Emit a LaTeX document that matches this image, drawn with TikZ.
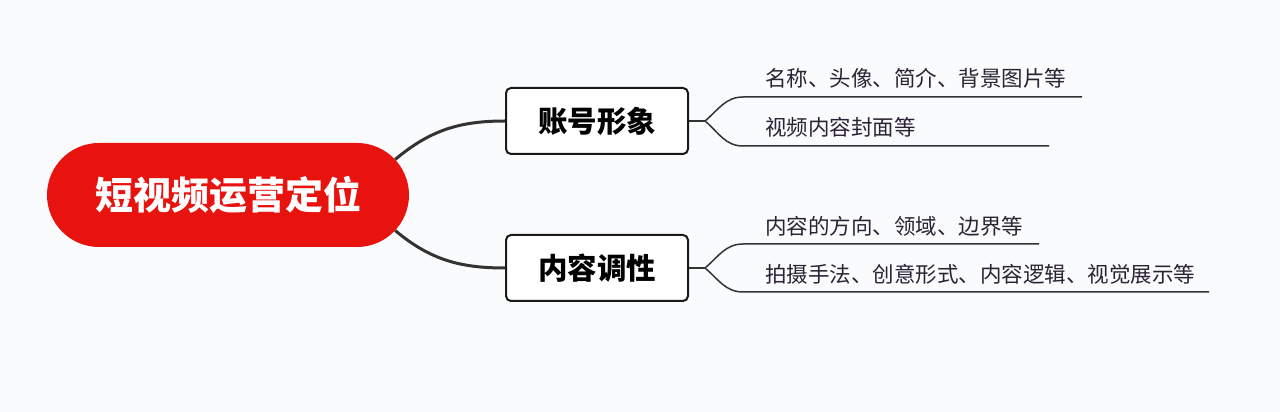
\documentclass[tikz,border=0pt]{standalone}
\usepackage{fontspec}
\setmainfont{Noto Sans CJK SC}
\usetikzlibrary{shapes.misc}

\definecolor{rootred}{HTML}{E8130E}
\definecolor{linegray}{HTML}{333333}
\definecolor{leafink}{HTML}{2B2335}
\definecolor{paper}{HTML}{F9FBFC}

\tikzset{
  rootnode/.style={rounded rectangle, fill=rootred, text=white,
    minimum width=362pt, minimum height=104pt, inner sep=0pt,
    font=\fontsize{38}{40}\selectfont\bfseries},
  topic/.style={draw=black!90, line width=2pt, rounded corners=5pt, fill=white,
    minimum width=182pt, minimum height=66pt, inner sep=0pt,
    font=\fontsize{29.5}{32}\selectfont\bfseries},
  leaf/.style={anchor=base west, inner sep=0pt, text=leafink,
    font=\fontsize{21.5}{24}\selectfont},
  branch/.style={draw=linegray, line width=3pt},
  twig/.style={draw=linegray, line width=1.5pt}
}

\begin{document}
\begin{tikzpicture}[x=1pt, y=1pt]

  % ============================================================
  % achtergrond
  % ============================================================
  \fill[paper] (0,0) rectangle (1280,412);
  \useasboundingbox (0,0) rectangle (1280,412);

  % ============================================================
  % hoofdonderwerp en takken
  % ============================================================

  \node[rootnode] (root) at (228,217) {短视频运营定位};

  \node[topic] (zh) at (597,291) {账号形象};
  \node[topic] (nr) at (597,144) {内容调性};

  \draw[branch] (root.12)  to[out=40,  in=180] (zh.west);
  \draw[branch] (root.-12) to[out=-40, in=180] (nr.west);

  % ============================================================
  % boven: 账号形象
  % ============================================================

  \coordinate (f1) at (705,291);
  \draw[twig] (zh.east) -- (f1);

  \coordinate (a1) at (743,315);
  \coordinate (a1e) at (1082,315);
  \coordinate (a2) at (743,266);
  \coordinate (a2e) at (1049,266);

  \draw[twig] (f1) to[out=40,  in=180] (a1) -- (a1e);
  \draw[twig] (f1) to[out=-40, in=180] (a2) -- (a2e);

  \node[leaf] (l1) at (765,325) {名称、头像、简介、背景图片等};
  \node[leaf] (l2) at (765,276) {视频内容封面等};

  % ============================================================
  % onder: 内容调性
  % ============================================================

  \coordinate (f2) at (705,144);
  \draw[twig] (nr.east) -- (f2);

  \coordinate (b1) at (743,168);
  \coordinate (b1e) at (1039,168);
  \coordinate (b2) at (743,120);
  \coordinate (b2e) at (1209,120);

  \draw[twig] (f2) to[out=40,  in=180] (b1) -- (b1e);
  \draw[twig] (f2) to[out=-40, in=180] (b2) -- (b2e);

  \node[leaf] (l3) at (765,177) {内容的方向、领域、边界等};
  \node[leaf] (l4) at (765,129) {拍摄手法、创意形式、内容逻辑、视觉展示等};

\end{tikzpicture}
\end{document}
